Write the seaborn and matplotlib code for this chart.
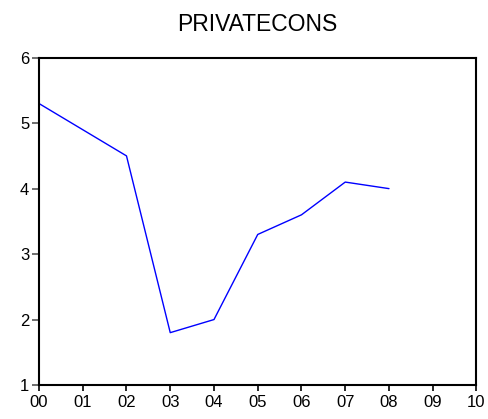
import matplotlib
matplotlib.use("Agg")
import matplotlib.pyplot as plt
import pandas as pd
import seaborn as sns

# values (2000-2008)
years = [0, 1, 2, 3, 4, 5, 6, 7, 8]
privatecons = [5.3, 4.9, 4.5, 1.8, 2.0, 3.3, 3.6, 4.1, 4.0]
tick_pos = [0, 1, 2, 3, 4, 5, 6, 7, 8, 9, 10]
tick_labels = ['00', '01', '02', '03', '04', '05', '06', '07', '08', '09', '10']
y_ticks = [1, 2, 3, 4, 5, 6]

df = pd.DataFrame({'year': years, 'PRIVATECONS': privatecons})

sns.set_style('ticks')
plt.rcParams['font.family'] = ['Liberation Sans', 'DejaVu Sans']
plt.rcParams['text.color'] = 'black'
plt.rcParams['xtick.labelcolor'] = 'black'
plt.rcParams['ytick.labelcolor'] = 'black'

fig = plt.figure(figsize=(4.88, 4.19), dpi=100)
ax = fig.add_axes([0.0799, 0.0811, 0.8965, 0.7812])

sns.lineplot(data=df, x='year', y='PRIVATECONS', ax=ax, color='#0000ff', linewidth=1.0)

ax.set_xlim(0, 10)
ax.set_ylim(1, 6)
ax.set_xticks(tick_pos)
ax.set_xticklabels(tick_labels)
ax.set_yticks(y_ticks)
ax.set_xlabel('')
ax.set_ylabel('')
ax.set_title('PRIVATECONS', fontsize=16.5, pad=19, color='black')

for s in ax.spines.values():
    s.set_visible(True)
    s.set_color('black')
    s.set_linewidth(1.5)

ax.tick_params(axis='y', direction='out', length=5, width=1.2, color='#555555',
               labelsize=12, pad=2, labelcolor='black')
ax.tick_params(axis='x', direction='out', length=4, width=1.2, color='black',
               labelsize=12, pad=3, labelcolor='black')
ax.grid(False)

fig.savefig('out.png', dpi=100)
